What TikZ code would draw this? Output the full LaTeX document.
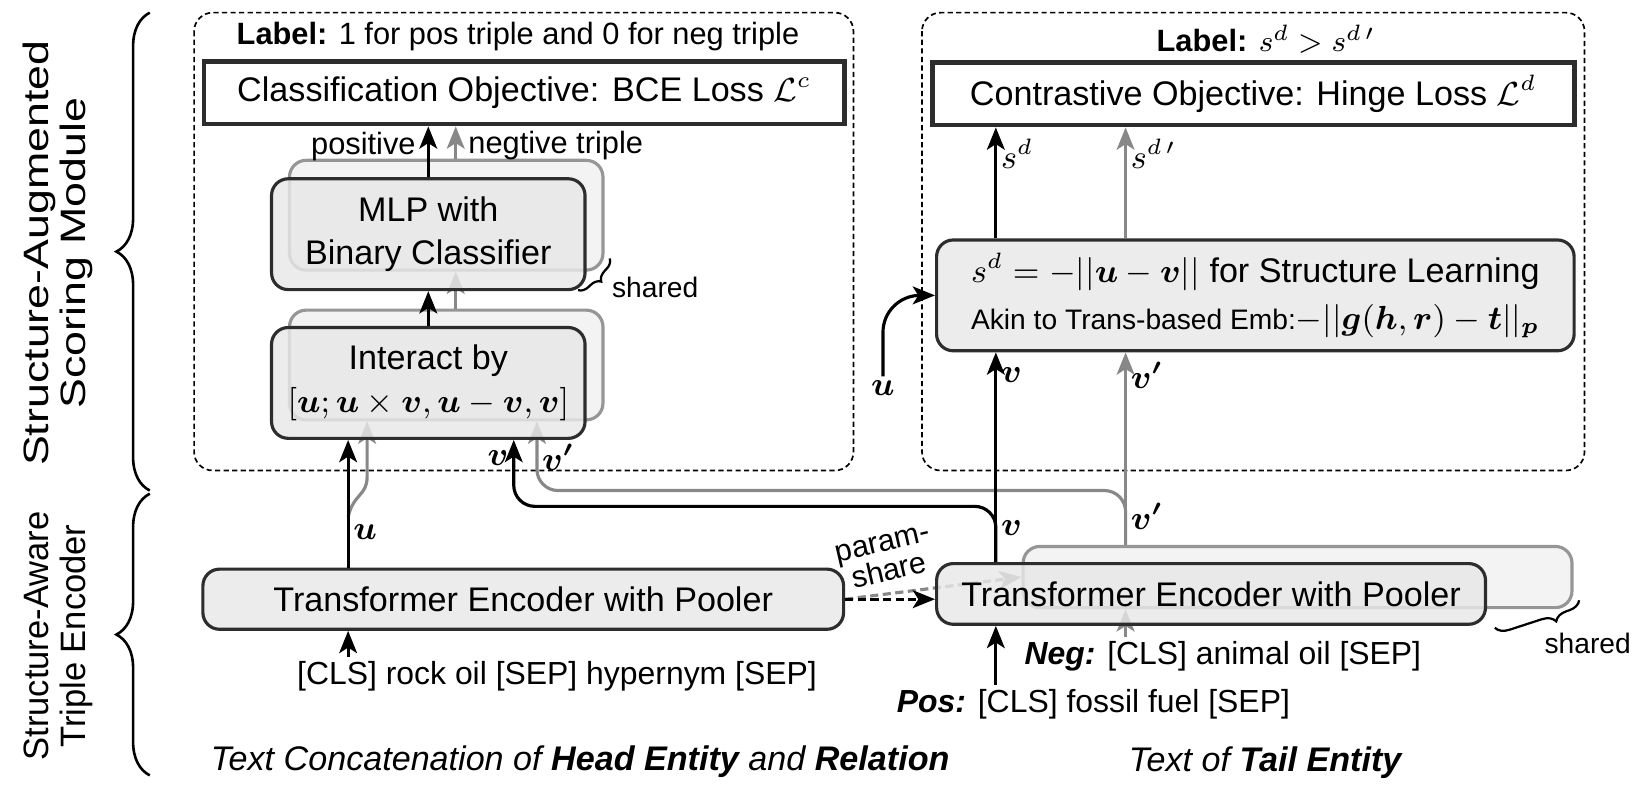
\documentclass[tikz,border=0pt]{standalone}
\usepackage{amsmath, amssymb, bm}
\usepackage{graphicx}
\usepackage[no-math]{fontspec}
\setmainfont{Liberation Sans}
\usepackage{tikz}
\usetikzlibrary{arrows.meta, calc, decorations.pathreplacing}
\definecolor{boxline}{RGB}{45, 45, 45}
\definecolor{boxfill}{RGB}{232, 232, 232}
\definecolor{backline}{RGB}{150, 150, 150}
\definecolor{backfill}{RGB}{243, 243, 243}
\definecolor{lightarrow}{RGB}{136, 136, 136}

\tikzset{
  front/.style={draw=boxline, fill=boxfill, fill opacity=0.82, text opacity=1, line width=0.85pt,
    rounded corners=4.5pt, inner sep=0pt, align=center, font=\fontsize{9.2}{11.7}\selectfont},
  back/.style={draw=backline, fill=backfill, line width=0.85pt, rounded corners=4.5pt, inner sep=0pt},
  loss/.style={draw=boxline, fill=white, line width=1.3pt, inner sep=0pt, font=\fontsize{9.2}{11}\selectfont},
  frame/.style={draw, line width=0.45pt, dash pattern=on 1.4pt off 0.9pt, rounded corners=5pt},
  blackarrow/.style={-{Stealth[length=6pt, width=4.8pt, inset=1.5pt]}, line width=0.85pt},
  grayarrow/.style={blackarrow, draw=lightarrow},
  shareline/.style={dash pattern=on 2.2pt off 1.2pt},
  tag/.style={inner sep=1pt, font=\fontsize{9.2}{11}\selectfont},
  note/.style={inner sep=1pt, font=\fontsize{8.3}{10}\selectfont},
  inputtext/.style={inner sep=1pt, font=\fontsize{8.6}{10}\selectfont},
  curly/.style={decorate, decoration={brace, amplitude=#1}, line width=0.6pt},
}

\begin{document}
\begin{tikzpicture}[x=0.01cm, y=-0.01cm]
  \useasboundingbox (0,0) rectangle (1566,754);

  % the two modules
  \draw[frame] (184,12) rectangle (809,446);
  \draw[frame] (874,12) rectangle (1502,446);
  \node[note] (lblcls) at (491,35) {\textbf{Label:} 1 for pos triple and 0 for neg triple};
  \node[note] (lblcon) at (1200,37) {\textbf{Label:} $s^d > s^{d\,\prime}$};

  \node[loss, minimum width=6.07cm, minimum height=0.59cm] (cls) at (497,88) {Classification Objective: BCE Loss~$\mathcal{L}^c$};
  \node[loss, minimum width=6.08cm, minimum height=0.59cm] (con) at (1188,89) {Contrastive Objective: Hinge Loss $\mathcal{L}^d$};

  \node[front, minimum width=6.04cm, minimum height=1.05cm] (st) at (1190,280)
    {$s^d=-||\bm{u}-\bm{v}||$ for Structure Learning\\[1pt]{\fontsize{7.6}{9}\selectfont Akin to Trans-based Emb:}$-||\bm{g}(\bm{h},\bm{r})-\bm{t}||_{\bm{p}}$};
  \node[front, minimum width=6.07cm, minimum height=0.57cm] (enchead) at (496,568) {Transformer Encoder with Pooler};

  % inputs and captions
  \node[inputtext] (inhead) at (528,641) {[CLS] rock oil [SEP] hypernym [SEP]};
  \node[inputtext, anchor=west] (inneg) at (967,622) {\textbf{\textit{Neg:}} [CLS] animal oil [SEP]};
  \node[inputtext, anchor=west] (inpos) at (846,668) {\textbf{\textit{Pos:}} [CLS] fossil fuel [SEP]};
  \node[tag] (caphead) at (550,722) {\textit{Text Concatenation of \textbf{Head Entity} and \textbf{Relation}}};
  \node[tag] (captail) at (1200,723) {\textit{Text of \textbf{Tail Entity}}};

  % shared copies behind
  \node[back, minimum width=2.97cm, minimum height=1.04cm] (mlpback) at (423,204) {};
  \node[back, minimum width=2.97cm, minimum height=1.04cm] (actback) at (423,346) {};
  \node[back, minimum width=5.2cm, minimum height=0.58cm] (enctailback) at (1230,547) {};

  \coordinate (mx) at (406,0);
  \coordinate (mgx) at (432,0);
  \coordinate (ux) at (330,0);
  \coordinate (ugx) at (348,0);
  \coordinate (vlx) at (487,0);
  \coordinate (vlgx) at (509,0);
  \coordinate (vx) at (944,0);
  \coordinate (vgx) at (1067,0);
  \coordinate (vbus) at (0,480);
  \coordinate (vgbus) at (0,465);

  % negative path
  \draw[grayarrow] (mgx |- mlpback.north) -- node[note, right=2pt, pos=0.4] {negtive triple} (mgx |- cls.south);
  \draw[grayarrow] (mgx |- actback.north) -- (mgx |- mlpback.south);
  \draw[grayarrow] (330,490) .. controls (335,468) and (348,470) .. (348,452) -- (ugx |- actback.south);
  \draw[grayarrow, rounded corners=0.2cm] (vgx |- enctailback.north) -- (vgx |- vgbus) -- (vlgx |- vgbus)
    -- node[tag, right, pos=0.48] {$\bm{v'}$} (vlgx |- actback.south);
  \draw[grayarrow] (vgx |- enctailback.north) -- node[tag, right, pos=0.15] {$\bm{v'}$}
    node[tag, right, pos=0.88] {$\bm{v'}$} (vgx |- st.south);
  \draw[grayarrow] (vgx |- st.north) -- node[tag, right, pos=0.76] {$s^{d\,\prime}$} (vgx |- con.south);
  \draw[grayarrow] (vgx |- inneg.north) -- (vgx |- enctailback.south);
  \draw[grayarrow, shareline] (enchead.east) -- (enctailback.west);

  % front copies
  \node[front, minimum width=2.97cm, minimum height=1.05cm] (mlp) at (406,222) {MLP with\\Binary Classifier};
  \node[front, minimum width=2.97cm, minimum height=1.05cm] (act) at (406,363)
    {Interact by\\$[\bm{u};\bm{u}\times\bm{v},\bm{u}-\bm{v},\bm{v}]$};
  \node[front, minimum width=5.2cm, minimum height=0.575cm] (enctail) at (1148,563) {Transformer Encoder with Pooler};

  % positive path
  \draw[blackarrow] (mx |- mlp.north) -- node[note, left=2pt, pos=0.6] {positive} (mx |- cls.south);
  \draw[blackarrow] (mx |- act.north) -- (mx |- mlp.south);
  \draw[blackarrow] (ux |- enchead.north) -- node[tag, right, pos=0.28] {$\bm{u}$} (ux |- act.south);
  \draw[blackarrow] (ux |- inhead.north) -- (ux |- enchead.south);
  \draw[blackarrow, rounded corners=0.2cm] (vx |- enctail.north) -- (vx |- vbus) -- (vlx |- vbus)
    -- node[tag, left, pos=0.73] {$\bm{v}$} (vlx |- act.south);
  \draw[blackarrow] (vx |- enctail.north) -- node[tag, right, pos=0.16] {$\bm{v}$}
    node[tag, right, pos=0.89] {$\bm{v}$} (vx |- st.south);
  \draw[blackarrow] (vx |- st.north) -- node[tag, right, pos=0.76] {$s^d$} (vx |- con.south);
  \draw[blackarrow] (vx |- inpos.north) -- (vx |- enctail.south);
  \draw[blackarrow, shareline] (enchead.east) -- (enchead.east -| enctail.west);
  \node[tag] (ulab) at (837,368) {$\bm{u}$};
  \draw[blackarrow, rounded corners=0.35cm] (ulab.north) |- (st.west);

  \node[note, rotate=13, align=center, font=\fontsize{8.2}{8}\selectfont, inner sep=0pt] (param) at (840,529) {param-\\share};

  % shared marks
  \draw[curly=2.8pt] (578,245) -- (548,275);
  \node[note, anchor=west, font=\fontsize{7.6}{9}\selectfont] (sharedtop) at (576,272) {shared};
  \draw[curly=3.5pt, decoration={aspect=0.32}] (1497,569) -- (1417,595);
  \node[note, font=\fontsize{7.6}{9}\selectfont] (sharedbot) at (1505,610) {shared};

  % module braces
  \draw[curly=9pt, line width=0.7pt] (142,465) -- (142,12);
  \draw[curly=9pt, line width=0.7pt] (142,735) -- (142,468);
  \node[rotate=90, align=center, font=\fontsize{9.5}{10}\selectfont] (scoring) at (55,240)
    {\scalebox{1.27}[1]{Structure-Augmented}\\\scalebox{1.27}[1]{Scoring Module}};
  \node[rotate=90, align=center, font=\fontsize{9.5}{10}\selectfont] (encoder) at (55,603)
    {\scalebox{0.98}[1]{Structure-Aware}\\\scalebox{0.98}[1]{Triple Encoder}};
\end{tikzpicture}
\end{document}
